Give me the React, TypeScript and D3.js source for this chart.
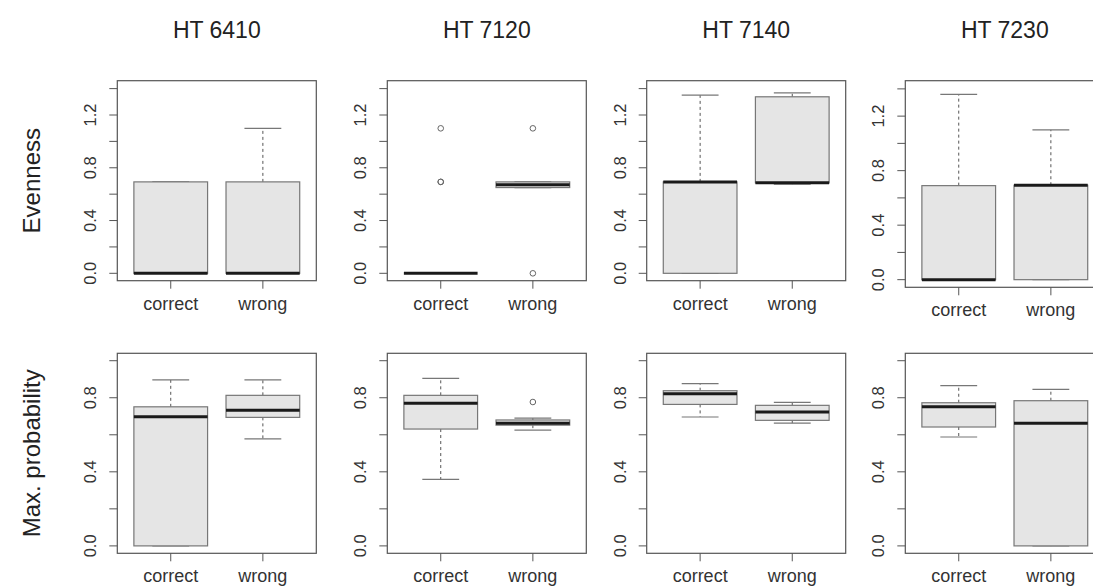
import React from 'react';
import * as d3 from 'd3';

type Box = { lo: number; q1: number; med: number; q3: number; hi: number; out: number[] };

const sites = ['HT 6410', 'HT 7120', 'HT 7140', 'HT 7230'];
const groups = ['correct', 'wrong'];
const rowLabels = ['Evenness', 'Max. probability'];

// Evenness (top row), per site: [correct, wrong]
const evenness: Box[][] = [
  [
    { lo: 0, q1: 0, med: 0, q3: 0.693, hi: 0.693, out: [] },
    { lo: 0, q1: 0, med: 0, q3: 0.693, hi: 1.099, out: [] },
  ],
  [
    { lo: 0, q1: 0, med: 0, q3: 0, hi: 0, out: [0.693, 0.693, 1.099] },
    { lo: 0.65, q1: 0.65, med: 0.672, q3: 0.693, hi: 0.693, out: [1.099, 0] },
  ],
  [
    { lo: 0, q1: 0, med: 0.693, q3: 0.693, hi: 1.35, out: [] },
    { lo: 0.675, q1: 0.686, med: 0.686, q3: 1.338, hi: 1.368, out: [] },
  ],
  [
    { lo: 0, q1: 0, med: 0, q3: 0.69, hi: 1.36, out: [] },
    { lo: 0, q1: 0, med: 0.693, q3: 0.693, hi: 1.099, out: [] },
  ],
];

// Max. probability (bottom row)
const maxProb: Box[][] = [
  [
    { lo: 0, q1: 0, med: 0.697, q3: 0.751, hi: 0.896, out: [] },
    { lo: 0.578, q1: 0.694, med: 0.733, q3: 0.813, hi: 0.896, out: [] },
  ],
  [
    { lo: 0.359, q1: 0.631, med: 0.77, q3: 0.813, hi: 0.905, out: [] },
    { lo: 0.625, q1: 0.652, med: 0.662, q3: 0.68, hi: 0.69, out: [0.777] },
  ],
  [
    { lo: 0.696, q1: 0.764, med: 0.822, q3: 0.838, hi: 0.876, out: [] },
    { lo: 0.663, q1: 0.678, med: 0.723, q3: 0.759, hi: 0.775, out: [] },
  ],
  [
    { lo: 0.588, q1: 0.642, med: 0.751, q3: 0.773, hi: 0.865, out: [] },
    { lo: 0, q1: 0, med: 0.662, q3: 0.784, hi: 0.845, out: [] },
  ],
];

const evenTicks = [0, 0.2, 0.4, 0.6, 0.8, 1.0, 1.2, 1.4];
const evenLabels = [0, 0.4, 0.8, 1.2];
const probTicks = [0, 0.2, 0.4, 0.6, 0.8, 1.0];
const probLabels = [0, 0.4, 0.8];

const colLeft = [117.3, 387.3, 646.7, 905.3];
const panelW = 199;
const font = 'Liberation Sans, Arial, sans-serif';

type PanelProps = {
  x0: number;
  y0: number;
  h: number;
  boxes: Box[];
  domain: [number, number];
  ticks: number[];
  labels: number[];
};

const Panel: React.FC<PanelProps> = ({ x0, y0, h, boxes, domain, ticks, labels }) => {
  const x = d3.scaleLinear().domain([0.42, 2.58]).range([x0, x0 + panelW]);
  const y = d3.scaleLinear().domain(domain).range([y0 + h, y0]);
  const bw = x(1.4) - x(1);
  const cw = x(1.2) - x(1);
  const yb = y0 + h;
  return (
    <g>
      {boxes.map((b, i) => {
        const cx = x(i + 1);
        return (
          <g key={i}>
            <line x1={cx} x2={cx} y1={y(b.q3)} y2={y(b.hi)} stroke="#555" strokeDasharray="3,3" />
            <line x1={cx} x2={cx} y1={y(b.q1)} y2={y(b.lo)} stroke="#555" strokeDasharray="3,3" />
            <line x1={cx - cw} x2={cx + cw} y1={y(b.hi)} y2={y(b.hi)} stroke="#777" strokeWidth={1.2} />
            <line x1={cx - cw} x2={cx + cw} y1={y(b.lo)} y2={y(b.lo)} stroke="#777" strokeWidth={1.2} />
            <rect x={cx - bw} y={y(b.q3)} width={bw * 2} height={Math.max(0, y(b.q1) - y(b.q3))}
              fill="#e5e5e5" stroke="#777" strokeWidth={1.2} />
            <line x1={cx - bw} x2={cx + bw} y1={y(b.med)} y2={y(b.med)} stroke="#1a1a1a" strokeWidth={3} />
            {b.out.map((o, j) => (
              <circle key={j} cx={cx} cy={y(o)} r={2.8} fill="none" stroke="#666" strokeWidth={1} />
            ))}
          </g>
        );
      })}
      <rect x={x0} y={y0} width={panelW} height={h} fill="none" stroke="#555" strokeWidth={1.2} />
      {ticks.map(t => (
        <line key={t} x1={x0 - 8} x2={x0} y1={y(t)} y2={y(t)} stroke="#555" />
      ))}
      {labels.map(t => (
        <text key={t} transform={`translate(${x0 - 21},${y(t)}) rotate(-90)`} textAnchor="middle"
          fontFamily={font} fontSize={16.5} fill="#333">{t.toFixed(1)}</text>
      ))}
      {groups.map((g, i) => (
        <g key={g}>
          <line x1={x(i + 1)} x2={x(i + 1)} y1={yb} y2={yb + 8} stroke="#555" />
          <text x={x(i + 1)} y={yb + 29} textAnchor="middle" fontFamily={font} fontSize={18} fill="#333">{g}</text>
        </g>
      ))}
    </g>
  );
};

export default function App() {
  return (
    <svg width={1093} height={586} style={{ position: 'absolute', left: 0, top: 0, background: '#fff' }}>
      {sites.map((s, i) => (
        <text key={s} x={colLeft[i] + panelW / 2} y={38} textAnchor="middle" fontFamily={font}
          fontSize={23} fill="#222">{s}</text>
      ))}
      <text transform="translate(40,180.7) rotate(-90)" textAnchor="middle" fontFamily={font}
        fontSize={24} fill="#222">{rowLabels[0]}</text>
      <text transform="translate(40,453.3) rotate(-90)" textAnchor="middle" fontFamily={font}
        fontSize={24} fill="#222">{rowLabels[1]}</text>
      {sites.map((s, i) => (
        <Panel key={'e' + s} x0={colLeft[i]} y0={80.7} h={i === 3 ? 206.6 : 200} boxes={evenness[i]}
          domain={[-0.056, 1.46]} ticks={evenTicks} labels={evenLabels} />
      ))}
      {sites.map((s, i) => (
        <Panel key={'p' + s} x0={colLeft[i]} y0={353.3} h={200} boxes={maxProb[i]}
          domain={[-0.04, 1.04]} ticks={probTicks} labels={probLabels} />
      ))}
    </svg>
  );
}
